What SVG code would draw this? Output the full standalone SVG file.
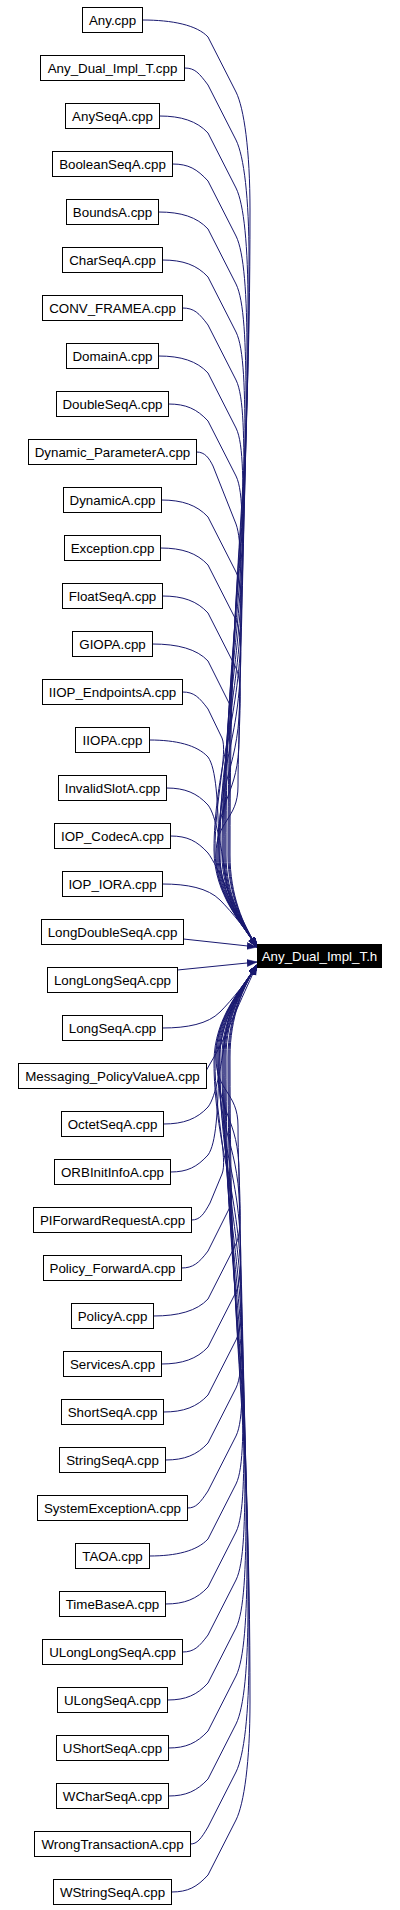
<svg xmlns="http://www.w3.org/2000/svg" width="400" height="1910" viewBox="0 0 400 1910">
<style>
.n rect{fill:#fff;stroke:#000;stroke-width:1}
.n text{font-family:"Liberation Sans",Arial,sans-serif;font-size:13.33px;text-anchor:middle;fill:#000}
.t rect{fill:#000;stroke:#000;stroke-width:1}
.t text{font-family:"Liberation Sans",Arial,sans-serif;font-size:13.33px;text-anchor:middle;fill:#fff}
#edges path{fill:none;stroke:#191970;stroke-width:1;marker-end:url(#ah)}
</style>
<defs>
<marker id="ah" markerUnits="userSpaceOnUse" markerWidth="11" markerHeight="8" refX="10" refY="3.5" orient="auto">
<path d="M0,0 L10,3.5 L0,7 z" fill="#191970" stroke="#191970" stroke-width="0.5"/>
</marker>
</defs>
<rect width="400" height="1910" fill="#fff"/>
<g id="edges">
<path d="M142.5,20 C172,20 197,25 208,37 L236,92 C244,108 250,150 250,210 C250,532 230,532 230,855 C230,895 243,925 257,947"/>
<path d="M184.5,68 C195,68 199,73 208,85 L236,140 C244,156 249,198 249,258 C249,556 229,556 229,855 C229,895 243,925 257,947"/>
<path d="M159.5,116 C181,116 197,121 208,133 L236,188 C244,204 248,246 248,306 C248,580 228,580 228,855 C228,895 243,925 257,947"/>
<path d="M172.5,164 C188.5,164 197,169 208,181 L236,236 C244,252 247,294 247,354 C247,604 226,604 226,855 C226,895 243,925 257,947"/>
<path d="M158.5,212 C181,212 197,217 208,229 L236,284 C244,300 246,342 246,402 C246,628 225,628 225,855 C225,895 243,925 257,947"/>
<path d="M162.5,260 C183,260 197,265 208,277 L236,332 C244,348 245,390 245,450 C245,652 224,652 224,855 C224,895 243,925 257,947"/>
<path d="M182.5,308 C194,308 199,313 208,325 L236,380 C244,396 244,438 244,498 C244,676 223,676 223,855 C223,895 243,925 257,947"/>
<path d="M158.5,356 C181,356 197,361 208,373 L236,428 C244,444 243,486 243,546 C243,700 222,700 222,855 C222,895 243,925 257,947"/>
<path d="M168.5,404 C186,404 197,409 208,421 L236,476 C244,492 242,534 242,594 C242,724 220,724 220,855 C220,895 243,925 257,947"/>
<path d="M196.5,452 C205,452 209,458 213,466 L236,524 C242,540 241,582 241,642 C241,748 219,748 219,855 C219,895 243,925 257,947"/>
<path d="M161.5,500 C182,500 197,505 208,517 L236,572 C244,588 240,630 240,690 C240,772 218,772 218,855 C218,895 243,925 257,947"/>
<path d="M160.5,548 C182,548 197,553 208,565 L236,620 C244,636 239,678 239,738 C239,796 217,796 217,855 C217,895 243,925 257,947"/>
<path d="M162.5,596 C183,596 197,601 208,613 L236,668 C244,684 238,726 238,786 C238,820 216,820 216,855 C216,895 243,925 257,947"/>
<path d="M152.5,644 C177.5,644 197,649 208,661 L230,705 C236,720 214,780 214,850 C214,895 243,925 257,947"/>
<path d="M182.5,692 C194,692 199,697 208,709 L222,738 C228,752 215,800 215,850 C215,895 243,925 257,947"/>
<path d="M149.5,740 C176,740 197,745 208,757 C216,768 218,800 219,850 C220,895 243,925 257,947"/>
<path d="M166.5,788 C185,788 197,793 208,805 C216,815 222,850 226,880 C230,910 245,930 257,947"/>
<path d="M170.5,836 C187.5,836 197,841 208,853 C218,866 238,915 257,947"/>
<path d="M162.5,884 C187,884 208,888 220,900 C232,912 248,932 257,947"/>
<path d="M183.5,939 L257,947"/>
<path d="M177.5,970 L257,962"/>
<path d="M162.5,1028 C187,1028 208,1024 220,1012 C232,1000 248,980 257,965"/>
<path d="M206.5,1070 C211,1062 216,1054 220,1046 C228,1030 245,990 257,965"/>
<path d="M163.5,1124 C183.5,1124 197,1119 208,1107 C216,1097 222,1062 226,1032 C230,1002 245,982 257,965"/>
<path d="M170.5,1172 C187.5,1172 197,1167 208,1155 C216,1144 218,1112 219,1062 C220,1017 243,987 257,965"/>
<path d="M191.5,1220 C200,1220 204,1214 210,1203 L222,1174 C228,1160 215,1112 215,1062 C215,1017 243,987 257,965"/>
<path d="M181.5,1268 C193,1268 199,1263 208,1251 L230,1207 C236,1192 214,1132 214,1062 C214,1017 243,987 257,965"/>
<path d="M153.5,1316 C178,1316 197,1311 208,1299 L236,1244 C244,1228 238,1186 238,1126 C238,1092 216,1092 216,1057 C216,1017 243,987 257,965"/>
<path d="M161.5,1364 C182,1364 197,1359 208,1347 L236,1292 C244,1276 239,1234 239,1174 C239,1116 217,1116 217,1057 C217,1017 243,987 257,965"/>
<path d="M163.5,1412 C183.5,1412 197,1407 208,1395 L236,1340 C244,1324 240,1282 240,1222 C240,1140 218,1140 218,1057 C218,1017 243,987 257,965"/>
<path d="M165.5,1460 C184.5,1460 197,1455 208,1443 L236,1388 C244,1372 241,1330 241,1270 C241,1164 219,1164 219,1057 C219,1017 243,987 257,965"/>
<path d="M187.5,1508 C196,1508 200,1503 208,1491 L236,1436 C244,1420 242,1378 242,1318 C242,1188 220,1188 220,1057 C220,1017 243,987 257,965"/>
<path d="M149.5,1556 C176,1556 197,1551 208,1539 L236,1484 C244,1468 243,1426 243,1366 C243,1212 222,1212 222,1057 C222,1017 243,987 257,965"/>
<path d="M165.5,1604 C184.5,1604 197,1599 208,1587 L236,1532 C244,1516 244,1474 244,1414 C244,1236 223,1236 223,1057 C223,1017 243,987 257,965"/>
<path d="M182.5,1652 C194,1652 199,1647 208,1635 L236,1580 C244,1564 245,1522 245,1462 C245,1260 224,1260 224,1057 C224,1017 243,987 257,965"/>
<path d="M167.5,1700 C186,1700 197,1695 208,1683 L236,1628 C244,1612 246,1570 246,1510 C246,1284 225,1284 225,1057 C225,1017 243,987 257,965"/>
<path d="M168.5,1748 C186,1748 197,1743 208,1731 L236,1676 C244,1660 247,1618 247,1558 C247,1308 226,1308 226,1057 C226,1017 243,987 257,965"/>
<path d="M168.5,1796 C186,1796 197,1791 208,1779 L236,1724 C244,1708 248,1666 248,1606 C248,1332 228,1332 228,1057 C228,1017 243,987 257,965"/>
<path d="M190.5,1844 C197,1844 201,1839 208,1827 L236,1772 C244,1756 249,1714 249,1654 C249,1356 229,1356 229,1057 C229,1017 243,987 257,965"/>
<path d="M171.5,1892 C188,1892 197,1887 208,1875 L236,1820 C244,1804 250,1762 250,1702 C250,1380 230,1380 230,1057 C230,1017 243,987 257,965"/>
</g>
<g id="target" class="t"><rect x="257.5" y="944.5" width="124" height="23"/><text x="319.5" y="960.5">Any_Dual_Impl_T.h</text></g>
<g id="n0" class="n"><rect x="82.5" y="7.5" width="60" height="25"/><text x="112.5" y="25">Any.cpp</text></g>
<g id="n1" class="n"><rect x="40.5" y="55.5" width="144" height="25"/><text x="112.5" y="73">Any_Dual_Impl_T.cpp</text></g>
<g id="n2" class="n"><rect x="65.5" y="103.5" width="94" height="25"/><text x="112.5" y="121">AnySeqA.cpp</text></g>
<g id="n3" class="n"><rect x="52.5" y="151.5" width="120" height="25"/><text x="112.5" y="169">BooleanSeqA.cpp</text></g>
<g id="n4" class="n"><rect x="66.5" y="199.5" width="92" height="25"/><text x="112.5" y="217">BoundsA.cpp</text></g>
<g id="n5" class="n"><rect x="62.5" y="247.5" width="100" height="25"/><text x="112.5" y="265">CharSeqA.cpp</text></g>
<g id="n6" class="n"><rect x="42.5" y="295.5" width="140" height="25"/><text x="112.5" y="313">CONV_FRAMEA.cpp</text></g>
<g id="n7" class="n"><rect x="66.5" y="343.5" width="92" height="25"/><text x="112.5" y="361">DomainA.cpp</text></g>
<g id="n8" class="n"><rect x="56.5" y="391.5" width="112" height="25"/><text x="112.5" y="409">DoubleSeqA.cpp</text></g>
<g id="n9" class="n"><rect x="28.5" y="439.5" width="168" height="25"/><text x="112.5" y="457">Dynamic_ParameterA.cpp</text></g>
<g id="n10" class="n"><rect x="63.5" y="487.5" width="98" height="25"/><text x="112.5" y="505">DynamicA.cpp</text></g>
<g id="n11" class="n"><rect x="64.5" y="535.5" width="96" height="25"/><text x="112.5" y="553">Exception.cpp</text></g>
<g id="n12" class="n"><rect x="62.5" y="583.5" width="100" height="25"/><text x="112.5" y="601">FloatSeqA.cpp</text></g>
<g id="n13" class="n"><rect x="72.5" y="631.5" width="80" height="25"/><text x="112.5" y="649">GIOPA.cpp</text></g>
<g id="n14" class="n"><rect x="42.5" y="679.5" width="140" height="25"/><text x="112.5" y="697">IIOP_EndpointsA.cpp</text></g>
<g id="n15" class="n"><rect x="75.5" y="727.5" width="74" height="25"/><text x="112.5" y="745">IIOPA.cpp</text></g>
<g id="n16" class="n"><rect x="58.5" y="775.5" width="108" height="25"/><text x="112.5" y="793">InvalidSlotA.cpp</text></g>
<g id="n17" class="n"><rect x="54.5" y="823.5" width="116" height="25"/><text x="112.5" y="841">IOP_CodecA.cpp</text></g>
<g id="n18" class="n"><rect x="62.5" y="871.5" width="100" height="25"/><text x="112.5" y="889">IOP_IORA.cpp</text></g>
<g id="n19" class="n"><rect x="41.5" y="919.5" width="142" height="25"/><text x="112.5" y="937">LongDoubleSeqA.cpp</text></g>
<g id="n20" class="n"><rect x="47.5" y="967.5" width="130" height="25"/><text x="112.5" y="985">LongLongSeqA.cpp</text></g>
<g id="n21" class="n"><rect x="62.5" y="1015.5" width="100" height="25"/><text x="112.5" y="1033">LongSeqA.cpp</text></g>
<g id="n22" class="n"><rect x="18.5" y="1063.5" width="188" height="25"/><text x="112.5" y="1081">Messaging_PolicyValueA.cpp</text></g>
<g id="n23" class="n"><rect x="61.5" y="1111.5" width="102" height="25"/><text x="112.5" y="1129">OctetSeqA.cpp</text></g>
<g id="n24" class="n"><rect x="54.5" y="1159.5" width="116" height="25"/><text x="112.5" y="1177">ORBInitInfoA.cpp</text></g>
<g id="n25" class="n"><rect x="33.5" y="1207.5" width="158" height="25"/><text x="112.5" y="1225">PIForwardRequestA.cpp</text></g>
<g id="n26" class="n"><rect x="43.5" y="1255.5" width="138" height="25"/><text x="112.5" y="1273">Policy_ForwardA.cpp</text></g>
<g id="n27" class="n"><rect x="71.5" y="1303.5" width="82" height="25"/><text x="112.5" y="1321">PolicyA.cpp</text></g>
<g id="n28" class="n"><rect x="63.5" y="1351.5" width="98" height="25"/><text x="112.5" y="1369">ServicesA.cpp</text></g>
<g id="n29" class="n"><rect x="61.5" y="1399.5" width="102" height="25"/><text x="112.5" y="1417">ShortSeqA.cpp</text></g>
<g id="n30" class="n"><rect x="59.5" y="1447.5" width="106" height="25"/><text x="112.5" y="1465">StringSeqA.cpp</text></g>
<g id="n31" class="n"><rect x="37.5" y="1495.5" width="150" height="25"/><text x="112.5" y="1513">SystemExceptionA.cpp</text></g>
<g id="n32" class="n"><rect x="75.5" y="1543.5" width="74" height="25"/><text x="112.5" y="1561">TAOA.cpp</text></g>
<g id="n33" class="n"><rect x="59.5" y="1591.5" width="106" height="25"/><text x="112.5" y="1609">TimeBaseA.cpp</text></g>
<g id="n34" class="n"><rect x="42.5" y="1639.5" width="140" height="25"/><text x="112.5" y="1657">ULongLongSeqA.cpp</text></g>
<g id="n35" class="n"><rect x="57.5" y="1687.5" width="110" height="25"/><text x="112.5" y="1705">ULongSeqA.cpp</text></g>
<g id="n36" class="n"><rect x="56.5" y="1735.5" width="112" height="25"/><text x="112.5" y="1753">UShortSeqA.cpp</text></g>
<g id="n37" class="n"><rect x="56.5" y="1783.5" width="112" height="25"/><text x="112.5" y="1801">WCharSeqA.cpp</text></g>
<g id="n38" class="n"><rect x="34.5" y="1831.5" width="156" height="25"/><text x="112.5" y="1849">WrongTransactionA.cpp</text></g>
<g id="n39" class="n"><rect x="53.5" y="1879.5" width="118" height="25"/><text x="112.5" y="1897">WStringSeqA.cpp</text></g>
</svg>
